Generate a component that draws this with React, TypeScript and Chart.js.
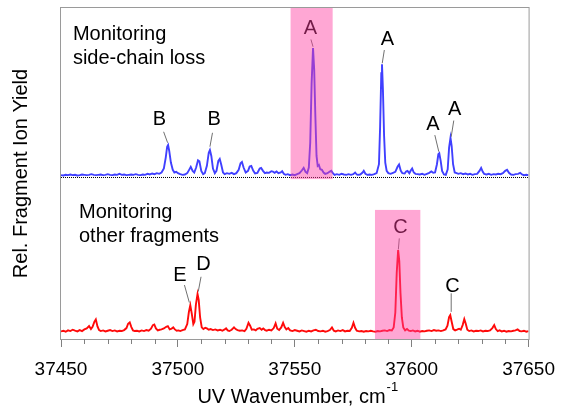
import { useEffect, useRef } from 'react';
import { Chart, registerables } from 'chart.js';

Chart.register(...registerables);

const FONT = 'Arial, "Liberation Sans", sans-serif';

const xMin = 37450;
const xMax = 37650;
const xTickStep = 50;
const xMinorStep = 10;
const yMin = 0;
const yMax = 100;

const blueOffset = 49.3;
const redOffset = 2.0;
const blueBaseline = 48.8;

// [wavenumber (cm^-1), relative yield]
const blueSpectrum: [number, number][] = [
  [37450, 0.2], [37451, 0.1], [37452, 0.3], [37453, 0.2], [37454, 0.4], [37455, 0.2], [37456, 0.3], [37457, 0.1],
  [37458, 0.2], [37459, 0.4], [37460, 0.3], [37461, 0.2], [37462, 0.3], [37463, 0.5], [37464, 0.3], [37465, 0.2],
  [37466, 0.3], [37467, 0.4], [37468, 0.2], [37469, 0.3], [37470, 0.5], [37471, 0.3], [37472, 0.2], [37473, 0.4],
  [37474, 0.3], [37475, 0.6], [37476, 0.3], [37477, 0.4], [37478, 0.2], [37479, 0.3], [37480, 0.4], [37481, 0.3],
  [37482, 0.5], [37483, 0.3], [37484, 0.2], [37485, 0.4], [37486, 0.3], [37487, 0.6], [37488, 0.4], [37489, 0.7],
  [37490, 0.5], [37491, 0.8], [37492, 0.6], [37493, 1.0], [37494, 2.2], [37494.8, 5.5], [37495.4, 8.8], [37495.8, 9.3],
  [37496.3, 7.5], [37497, 4.0], [37497.8, 1.8], [37498.5, 1.0], [37499.3, 1.2], [37500, 0.8], [37501, 0.5], [37502, 0.3],
  [37503, 0.4], [37504, 0.8], [37504.8, 1.8], [37505.5, 2.7], [37506.3, 1.5], [37507, 1.0], [37507.8, 2.5], [37508.6, 4.7],
  [37509.2, 4.4], [37510, 1.5], [37510.8, 0.5], [37511.5, 0.8], [37512.4, 3.0], [37513.2, 7.0], [37513.7, 7.8], [37514.3, 6.0],
  [37515, 2.2], [37515.8, 0.8], [37516.5, 1.5], [37517.3, 4.5], [37517.9, 5.1], [37518.5, 3.5], [37519.3, 1.0], [37520, 0.5],
  [37521, 0.8], [37522, 0.6], [37523, 0.9], [37524, 0.5], [37525, 0.8], [37526, 1.8], [37526.8, 3.8], [37527.4, 4.2],
  [37528.1, 2.5], [37529, 1.0], [37530, 1.5], [37530.7, 2.8], [37531.4, 3.0], [37532.2, 1.6], [37533, 0.7], [37534, 0.9],
  [37535, 2.2], [37535.6, 2.4], [37536.4, 1.5], [37537.2, 0.8], [37538, 1.0], [37539, 0.9], [37540, 1.4], [37540.6, 1.3],
  [37541.4, 0.9], [37542.2, 1.3], [37543, 0.8], [37544, 1.0], [37544.6, 1.4], [37545.3, 0.6], [37546, 0.3], [37547, 0.5],
  [37548, 0.2], [37549, 0.4], [37550, 0.2], [37551, 0.5], [37552, 0.8], [37553, 1.6], [37553.8, 2.4], [37554.6, 1.2],
  [37555.3, 0.8], [37556, 2.5], [37556.6, 10], [37557.2, 28], [37557.8, 38.6], [37558.3, 32], [37558.8, 18], [37559.3, 6],
  [37559.8, 3.0], [37560.3, 3.3], [37560.9, 2.0], [37561.6, 1.8], [37562.3, 1.0], [37563, 0.6], [37564, 0.8], [37564.8, 1.2],
  [37565.6, 1.5], [37566.3, 0.8], [37567, 0.3], [37568, 0.5], [37569, 0.3], [37570, 0.6], [37571, 0.4], [37572, 0.3],
  [37573, 0.5], [37574, 0.3], [37575, 0.5], [37575.8, 1.0], [37576.5, 0.4], [37577, 0.3], [37578, 0.4], [37579, 1.0],
  [37579.5, 1.5], [37580.2, 0.6], [37581, 0.3], [37582, 0.4], [37583, 0.3], [37584, 0.5], [37585, 0.8], [37586, 3.5],
  [37586.5, 15], [37587, 31], [37587.3, 33.7], [37587.7, 26], [37588.2, 12], [37588.7, 4], [37589.3, 1.5], [37590, 0.8],
  [37591, 0.6], [37592, 0.9], [37593, 1.2], [37594, 2.8], [37594.6, 3.4], [37595.3, 1.6], [37596, 0.8], [37597, 0.7],
  [37597.6, 1.3], [37598.2, 1.5], [37599, 0.8], [37599.6, 1.6], [37600.2, 2.2], [37600.9, 1.0], [37601.6, 0.6], [37602.5, 0.5],
  [37603.5, 0.4], [37604.5, 0.6], [37605.5, 0.3], [37606.5, 0.6], [37607.5, 0.9], [37608.4, 1.3], [37609.2, 0.9], [37610, 1.0],
  [37610.8, 3.5], [37611.4, 6.5], [37611.8, 6.8], [37612.4, 4.5], [37613, 1.5], [37613.8, 0.4], [37614.6, 0.3], [37615.4, 2.0],
  [37616, 8.5], [37616.6, 11.5], [37617.1, 9.0], [37617.7, 3.5], [37618.4, 1.0], [37619.2, 0.8], [37620, 0.6], [37621, 0.8],
  [37622, 0.5], [37623, 0.7], [37624, 0.4], [37625, 0.6], [37626, 0.3], [37627, 0.5], [37628, 0.6], [37629, 1.5],
  [37629.7, 2.4], [37630.4, 1.2], [37631, 0.6], [37632, 0.4], [37633, 0.6], [37634, 0.3], [37635, 0.5], [37636, 0.4],
  [37637, 0.6], [37638, 0.5], [37639, 0.8], [37640, 1.5], [37640.8, 1.8], [37641.6, 0.9], [37642.5, 0.4], [37643.5, 0.3],
  [37644.5, 0.5], [37645.5, 0.6], [37646.4, 0.9], [37647.2, 0.4], [37648, 0.2], [37649, 0.3], [37650, 0.2],
];

const redSpectrum: [number, number][] = [
  [37450, 0.3], [37451, 0.5], [37452, 0.2], [37453, 0.6], [37454, 0.4], [37455, 0.8], [37456, 0.5], [37457, 0.3],
  [37458, 0.7], [37459, 0.4], [37460, 0.9], [37461, 1.2], [37462, 1.9], [37462.8, 1.0], [37463.5, 1.7], [37464.3, 3.2],
  [37464.9, 3.9], [37465.6, 1.8], [37466.3, 0.7], [37467, 0.4], [37468, 0.6], [37469, 0.3], [37470, 0.5], [37471, 0.7],
  [37472, 0.4], [37473, 0.6], [37474, 0.3], [37475, 0.5], [37476, 0.4], [37477, 0.7], [37478, 1.3], [37478.7, 2.6],
  [37479.4, 3.0], [37480.1, 1.6], [37480.8, 0.6], [37481.5, 0.4], [37482.5, 0.5], [37483.5, 0.3], [37484.5, 0.6], [37485.5, 0.4],
  [37486.5, 0.7], [37487.5, 0.5], [37488.5, 1.1], [37489.3, 2.2], [37489.9, 2.4], [37490.6, 1.2], [37491.4, 0.6], [37492.2, 0.8],
  [37493, 0.9], [37494, 1.2], [37495, 1.7], [37495.7, 1.9], [37496.5, 0.9], [37497.3, 1.1], [37498, 1.5], [37498.7, 0.9],
  [37499.5, 0.5], [37500.3, 0.6], [37501, 0.4], [37502, 0.7], [37503, 0.9], [37504, 2.5], [37504.7, 6.2], [37505.3, 8.2],
  [37505.9, 5.8], [37506.6, 2.5], [37507.1, 3.2], [37507.7, 8.4], [37508.4, 11.6], [37508.9, 9.8], [37509.5, 4.5], [37510.2, 1.5],
  [37510.9, 1.0], [37511.7, 1.4], [37512.4, 1.2], [37513.2, 0.8], [37514, 1.0], [37515, 0.7], [37516, 0.9], [37517, 0.6],
  [37518, 0.8], [37519, 0.5], [37520, 0.9], [37520.6, 1.2], [37521.3, 0.6], [37522, 0.4], [37523, 0.8], [37524, 1.5],
  [37524.7, 1.0], [37525.5, 0.7], [37526.5, 0.5], [37527.5, 0.6], [37528.5, 0.4], [37529.3, 1.1], [37530.2, 2.9], [37530.9, 2.0],
  [37531.6, 0.8], [37532.5, 0.9], [37533.3, 0.6], [37534, 1.1], [37535, 1.3], [37535.8, 0.8], [37536.5, 1.2], [37537.3, 0.7],
  [37538, 0.5], [37539, 0.8], [37540, 0.6], [37541, 1.3], [37541.8, 2.7], [37542.5, 1.1], [37543.3, 0.7], [37544.2, 1.5],
  [37545, 2.9], [37545.7, 1.6], [37546.4, 0.9], [37547.2, 1.3], [37548, 0.6], [37549, 0.4], [37550, 0.7], [37551, 0.5],
  [37552, 0.3], [37553, 0.6], [37554, 0.4], [37555, 0.2], [37556, 0.5], [37557, 0.3], [37558, 0.6], [37559, 0.8],
  [37560, 0.4], [37561, 0.3], [37562, 0.5], [37563, 0.2], [37564, 0.4], [37565, 0.7], [37565.9, 1.5], [37566.7, 0.5],
  [37567.5, 0.3], [37568.5, 0.6], [37569.5, 0.4], [37570.5, 0.7], [37571.5, 0.3], [37572.5, 0.5], [37573.5, 0.4], [37574.4, 1.4],
  [37575.1, 2.9], [37575.8, 1.4], [37576.5, 0.5], [37577.5, 0.3], [37578.5, 0.4], [37579.5, 0.2], [37580.5, 0.4], [37581.5, 0.3],
  [37582.5, 0.5], [37583.5, 0.3], [37584.5, 0.2], [37585.5, 0.4], [37586.5, 0.3], [37587.5, 0.5], [37588.5, 0.6], [37589.5, 0.4],
  [37590.5, 0.7], [37591.5, 0.6], [37592.3, 1.5], [37593, 6.0], [37593.6, 18], [37594.2, 24.9], [37594.7, 21.5], [37595.2, 12],
  [37595.8, 4.5], [37596.4, 1.5], [37597.2, 0.6], [37598, 1.0], [37598.8, 0.5], [37599.6, 0.4], [37600.5, 0.6], [37601.5, 0.3],
  [37602.5, 0.5], [37603.5, 0.2], [37604.5, 0.4], [37605.5, 0.3], [37606.5, 0.5], [37607.5, 0.6], [37608.5, 0.4], [37609.5, 0.7],
  [37610.5, 0.5], [37611.5, 0.6], [37612.5, 0.4], [37613.5, 0.6], [37614.5, 0.9], [37615.3, 2.0], [37616, 4.6], [37616.5, 5.2],
  [37617.1, 3.2], [37617.8, 1.0], [37618.6, 0.6], [37619.4, 0.8], [37620.3, 1.1], [37621, 0.8], [37621.8, 2.2], [37622.5, 4.0],
  [37623.1, 2.7], [37623.8, 0.8], [37624.6, 0.4], [37625.5, 0.6], [37626.5, 0.3], [37627.5, 0.5], [37628.5, 0.4], [37629.5, 0.6],
  [37630.5, 0.3], [37631.5, 0.5], [37632.5, 0.4], [37633.5, 0.6], [37634.5, 1.3], [37635.3, 2.2], [37636, 1.0], [37636.8, 0.4],
  [37637.6, 0.6], [37638.5, 0.3], [37639.5, 0.5], [37640.5, 0.2], [37641.5, 0.4], [37642.5, 0.3], [37643.5, 0.5], [37644.4, 0.6],
  [37645.3, 0.9], [37646.2, 0.4], [37647, 0.3], [37648, 0.5], [37649, 0.2], [37650, 0.4],
];

const highlightBands = [
  { x0: 37548.2, x1: 37566.2, y0: 48.3, y1: 100 },
  { x0: 37584.3, x1: 37603.7, y0: 0, y1: 39.0 },
];

const peakLabels = [
  { text: 'B', x: 37492.1, y: 66.2, from: [37493.9, 62.6], to: [37495.6, 59.3] },
  { text: 'B', x: 37515.5, y: 66.2, from: [37514.8, 62.3], to: [37513.7, 58.1] },
  { text: 'A', x: 37556.7, y: 93.9, from: [37556.9, 90.5], to: [37557.8, 88.3] },
  { text: 'A', x: 37589.6, y: 90.5, from: [37588.3, 87.3], to: [37587.4, 83.3] },
  { text: 'A', x: 37609.1, y: 64.7, from: [37609.9, 61.6], to: [37611.6, 56.6] },
  { text: 'A', x: 37618.4, y: 69.4, from: [37618.0, 66.0], to: [37616.9, 61.1] },
  { text: 'C', x: 37595.2, y: 33.7, from: [37594.7, 30.4], to: [37594.3, 27.1] },
  { text: 'C', x: 37617.4, y: 15.8, from: [37616.9, 13.8], to: [37616.9, 8.2] },
  { text: 'E', x: 37500.9, y: 19.3, from: [37502.8, 16.3], to: [37504.9, 11.0] },
  { text: 'D', x: 37510.9, y: 22.4, from: [37509.9, 18.8], to: [37508.7, 14.3] },
];

const panelTitles = [
  { lines: ['Monitoring', 'side-chain loss'], x: 37455.1, y: [90.2, 83.2] },
  { lines: ['Monitoring', 'other fragments'], x: 37457.7, y: [36.5, 29.4] },
];

const xTitle = 'UV Wavenumber, cm';
const xTitleSup = '-1';
const yTitle = 'Rel. Fragment Ion Yield';

const decorPlugin = {
  id: 'decor',
  afterDatasetsDraw(chart: any) {
    const { ctx, scales } = chart;
    const x = scales.x;
    const y = scales.y;
    ctx.save();
    ctx.strokeStyle = '#707070';
    ctx.lineWidth = 1;
    for (const l of peakLabels) {
      ctx.beginPath();
      ctx.moveTo(x.getPixelForValue(l.from[0]), y.getPixelForValue(l.from[1]));
      ctx.lineTo(x.getPixelForValue(l.to[0]), y.getPixelForValue(l.to[1]));
      ctx.stroke();
    }
    ctx.fillStyle = '#000';
    ctx.font = `20px ${FONT}`;
    ctx.textAlign = 'center';
    ctx.textBaseline = 'middle';
    for (const l of peakLabels) {
      ctx.fillText(l.text, x.getPixelForValue(l.x), y.getPixelForValue(l.y));
    }
    ctx.textAlign = 'left';
    ctx.textBaseline = 'alphabetic';
    for (const p of panelTitles) {
      p.lines.forEach((t, i) => {
        ctx.fillText(t, x.getPixelForValue(p.x), y.getPixelForValue(p.y[i]));
      });
    }
    ctx.fillStyle = 'rgba(255, 60, 160, 0.45)';
    for (const b of highlightBands) {
      const px0 = x.getPixelForValue(b.x0);
      const px1 = x.getPixelForValue(b.x1);
      const py0 = y.getPixelForValue(b.y0);
      const py1 = y.getPixelForValue(b.y1);
      ctx.fillRect(px0, py1, px1 - px0, py0 - py1);
    }
    ctx.restore();
  },
  afterDraw(chart: any) {
    const { ctx, chartArea, scales } = chart;
    const x = scales.x;
    ctx.save();
    ctx.strokeStyle = '#9a9a9a';
    ctx.lineWidth = 1;
    ctx.strokeRect(chartArea.left - 0.5, chartArea.top - 0.5, chartArea.right - chartArea.left + 1, chartArea.bottom - chartArea.top + 1);
    ctx.strokeStyle = '#808080';
    ctx.beginPath();
    for (let v = xMin; v <= xMax; v += xMinorStep) {
      if (v % xTickStep === 0) continue;
      const px = Math.round(x.getPixelForValue(v)) + 0.5;
      ctx.moveTo(px, chartArea.bottom);
      ctx.lineTo(px, chartArea.bottom + 5);
    }
    ctx.stroke();
    ctx.fillStyle = '#000';
    ctx.textBaseline = 'alphabetic';
    ctx.textAlign = 'left';
    ctx.font = `20px ${FONT}`;
    const wMain = ctx.measureText(xTitle).width;
    ctx.font = `13px ${FONT}`;
    const wSup = ctx.measureText(xTitleSup).width;
    const cx = (chartArea.left + chartArea.right) / 2 + 3;
    const sx = cx - (wMain + wSup + 1) / 2;
    ctx.font = `20px ${FONT}`;
    ctx.fillText(xTitle, sx, 403);
    ctx.font = `13px ${FONT}`;
    ctx.fillText(xTitleSup, sx + wMain + 1, 391);
    ctx.font = `20px ${FONT}`;
    ctx.textAlign = 'center';
    ctx.textBaseline = 'middle';
    ctx.translate(21, (chartArea.top + chartArea.bottom) / 2);
    ctx.rotate(-Math.PI / 2);
    ctx.fillText(yTitle, 0, 0);
    ctx.restore();
  },
};

export default function App() {
  const ref = useRef<HTMLCanvasElement | null>(null);
  useEffect(() => {
    if (!ref.current) return;
    const chart = new Chart(ref.current, {
      type: 'line',
      data: {
        datasets: [
          {
            label: 'side-chain loss',
            data: blueSpectrum.map(([w, v]) => ({ x: w, y: v + blueOffset })),
            borderColor: 'rgb(64, 64, 255)',
            borderWidth: 1.9,
            pointRadius: 0,
            tension: 0,
            order: 1,
          },
          {
            label: 'other fragments',
            data: redSpectrum.map(([w, v]) => ({ x: w, y: v + redOffset })),
            borderColor: 'rgb(255, 10, 10)',
            borderWidth: 1.9,
            pointRadius: 0,
            tension: 0,
            order: 1,
          },
          {
            label: 'baseline',
            data: [
              { x: xMin, y: blueBaseline },
              { x: xMax, y: blueBaseline },
            ],
            borderColor: '#000',
            borderWidth: 1,
            borderDash: [1, 1],
            pointRadius: 0,
            order: 2,
          },
        ],
      },
      options: {
        animation: false,
        responsive: false,
        maintainAspectRatio: false,
        layout: { padding: { left: 61, right: 35, top: 8, bottom: 0 } },
        plugins: { legend: { display: false }, tooltip: { enabled: false } },
        scales: {
          x: {
            type: 'linear',
            min: xMin,
            max: xMax,
            afterFit: (scale: any) => {
              scale.height = 70;
            },
            ticks: {
              stepSize: xTickStep,
              color: '#000',
              font: { family: FONT, size: 19 },
              padding: 11,
              maxRotation: 0,
              autoSkip: false,
              callback: (v: any) => String(v),
            },
            grid: {
              drawOnChartArea: false,
              drawTicks: true,
              tickLength: 8,
              color: '#808080',
            },
            border: { display: true, color: '#808080' },
          },
          y: {
            type: 'linear',
            min: yMin,
            max: yMax,
            display: false,
          },
        },
      },
      plugins: [decorPlugin],
    });
    return () => chart.destroy();
  }, []);
  return (
    <div style={{ position: 'absolute', left: 0, top: 0, width: 566, height: 409 }}>
      <canvas ref={ref} width={566} height={409} style={{ display: 'block' }} />
    </div>
  );
}
